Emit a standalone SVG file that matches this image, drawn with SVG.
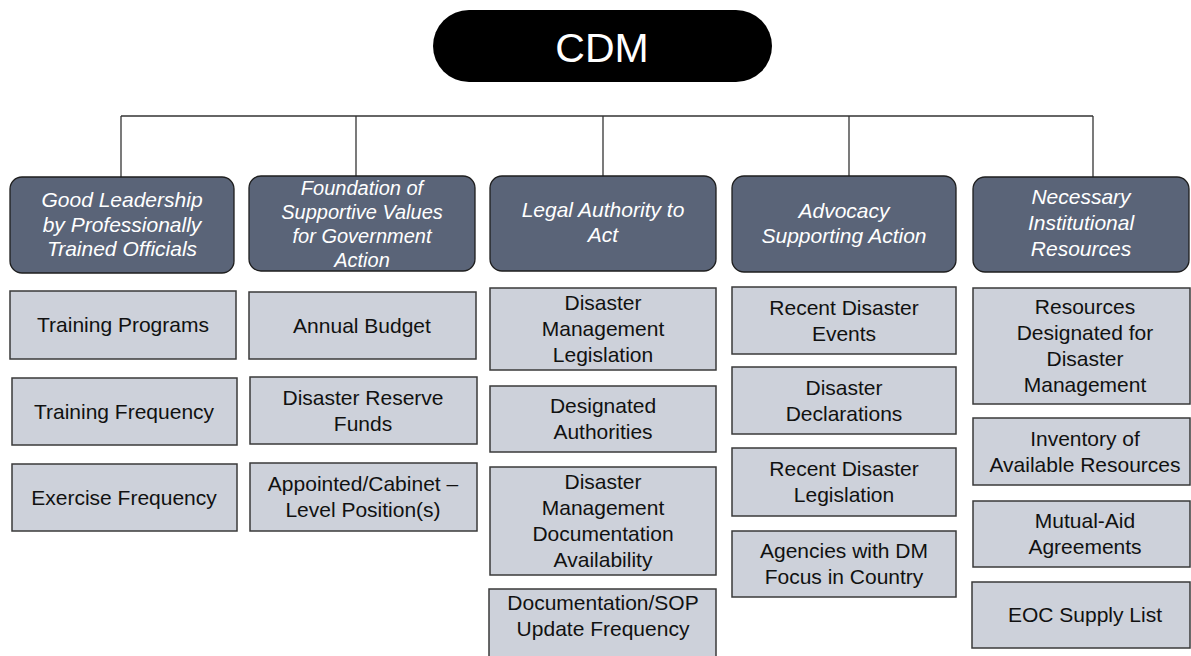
<svg xmlns="http://www.w3.org/2000/svg" width="1191" height="656" viewBox="0 0 1191 656">
<style>
.bg{fill:#ffffff}
.root{fill:#000000}
.roott{font-family:"Liberation Sans",Arial,sans-serif;font-size:41px;fill:#ffffff;text-anchor:middle}
.hdr{fill:#5a6478;stroke:#1e1e1e;stroke-width:1.3}
.hdrt{font-family:"Liberation Sans",Arial,sans-serif;font-size:21px;font-style:italic;fill:#ffffff;text-anchor:middle}
.sm{font-size:20px}
.box{fill:#cdd1da;stroke:#3a3a3a;stroke-width:1.5}
.boxt{font-family:"Liberation Sans",Arial,sans-serif;font-size:21px;fill:#111111;text-anchor:middle}
.conn{fill:none;stroke:#333333;stroke-width:1.3}
</style>
<rect class="bg" x="0" y="0" width="1191" height="656"/>
<g id="connectors">
<path class="conn" d="M121,116 H1093"/>
<path class="conn" d="M121,116 V177"/>
<path class="conn" d="M356,116 V176"/>
<path class="conn" d="M603,116 V176"/>
<path class="conn" d="M849,116 V176"/>
<path class="conn" d="M1093,116 V177"/>
</g>
<g id="cdm">
<rect class="root" x="433" y="10" width="339" height="72" rx="36"/>
<text class="roott" x="602" y="62">CDM</text>
</g>
<g id="h1">
<rect class="hdr" x="10" y="177" width="224" height="96" rx="12"/>
<text class="hdrt" x="122" y="207">Good Leadership</text>
<text class="hdrt" x="122" y="232">by Professionally</text>
<text class="hdrt" x="122" y="256">Trained Officials</text>
</g>
<g id="h2">
<rect class="hdr" x="249" y="176" width="226" height="95" rx="12"/>
<text class="hdrt sm" x="362" y="195">Foundation of</text>
<text class="hdrt sm" x="362" y="219">Supportive Values</text>
<text class="hdrt sm" x="362" y="243">for Government</text>
<text class="hdrt sm" x="362" y="267">Action</text>
</g>
<g id="h3">
<rect class="hdr" x="490" y="176" width="226" height="95" rx="12"/>
<text class="hdrt" x="603" y="217">Legal Authority to</text>
<text class="hdrt" x="603" y="242">Act</text>
</g>
<g id="h4">
<rect class="hdr" x="732" y="176" width="224" height="96" rx="12"/>
<text class="hdrt" x="844" y="218">Advocacy</text>
<text class="hdrt" x="844" y="243">Supporting Action</text>
</g>
<g id="h5">
<rect class="hdr" x="973" y="177" width="216" height="95" rx="12"/>
<text class="hdrt" x="1081" y="204">Necessary</text>
<text class="hdrt" x="1081" y="230">Institutional</text>
<text class="hdrt" x="1081" y="256">Resources</text>
</g>
<g id="c1b1">
<rect class="box" x="10" y="291" width="226" height="68"/>
<text class="boxt" x="123" y="332">Training Programs</text>
</g>
<g id="c1b2">
<rect class="box" x="12" y="378" width="225" height="67"/>
<text class="boxt" x="124" y="419">Training Frequency</text>
</g>
<g id="c1b3">
<rect class="box" x="12" y="464" width="225" height="67"/>
<text class="boxt" x="124" y="505">Exercise Frequency</text>
</g>
<g id="c2b1">
<rect class="box" x="249" y="292" width="227" height="67"/>
<text class="boxt" x="362" y="333">Annual Budget</text>
</g>
<g id="c2b2">
<rect class="box" x="250" y="377" width="227" height="67"/>
<text class="boxt" x="363" y="405">Disaster Reserve</text>
<text class="boxt" x="363" y="431">Funds</text>
</g>
<g id="c2b3">
<rect class="box" x="250" y="463" width="227" height="68"/>
<text class="boxt" x="363" y="491">Appointed/Cabinet –</text>
<text class="boxt" x="363" y="517">Level Position(s)</text>
</g>
<g id="c3b1">
<rect class="box" x="490" y="288" width="226" height="82"/>
<text class="boxt" x="603" y="310">Disaster</text>
<text class="boxt" x="603" y="336">Management</text>
<text class="boxt" x="603" y="362">Legislation</text>
</g>
<g id="c3b2">
<rect class="box" x="490" y="386" width="226" height="66"/>
<text class="boxt" x="603" y="413">Designated</text>
<text class="boxt" x="603" y="439">Authorities</text>
</g>
<g id="c3b3">
<rect class="box" x="490" y="467" width="226" height="108"/>
<text class="boxt" x="603" y="489">Disaster</text>
<text class="boxt" x="603" y="515">Management</text>
<text class="boxt" x="603" y="541">Documentation</text>
<text class="boxt" x="603" y="567">Availability</text>
</g>
<g id="c3b4">
<rect class="box" x="489" y="589" width="227" height="75"/>
<text class="boxt" x="603" y="610">Documentation/SOP</text>
<text class="boxt" x="603" y="636">Update Frequency</text>
</g>
<g id="c4b1">
<rect class="box" x="732" y="287" width="224" height="67"/>
<text class="boxt" x="844" y="315">Recent Disaster</text>
<text class="boxt" x="844" y="341">Events</text>
</g>
<g id="c4b2">
<rect class="box" x="732" y="367" width="224" height="67"/>
<text class="boxt" x="844" y="395">Disaster</text>
<text class="boxt" x="844" y="421">Declarations</text>
</g>
<g id="c4b3">
<rect class="box" x="732" y="448" width="224" height="68"/>
<text class="boxt" x="844" y="476">Recent Disaster</text>
<text class="boxt" x="844" y="502">Legislation</text>
</g>
<g id="c4b4">
<rect class="box" x="732" y="531" width="224" height="66"/>
<text class="boxt" x="844" y="558">Agencies with DM</text>
<text class="boxt" x="844" y="584">Focus in Country</text>
</g>
<g id="c5b1">
<rect class="box" x="973" y="288" width="217" height="116"/>
<text class="boxt" x="1085" y="314">Resources</text>
<text class="boxt" x="1085" y="340">Designated for</text>
<text class="boxt" x="1085" y="366">Disaster</text>
<text class="boxt" x="1085" y="392">Management</text>
</g>
<g id="c5b2">
<rect class="box" x="973" y="418" width="217" height="67"/>
<text class="boxt" x="1085" y="446">Inventory of</text>
<text class="boxt" x="1085" y="472">Available Resources</text>
</g>
<g id="c5b3">
<rect class="box" x="973" y="501" width="217" height="66"/>
<text class="boxt" x="1085" y="528">Mutual-Aid</text>
<text class="boxt" x="1085" y="554">Agreements</text>
</g>
<g id="c5b4">
<rect class="box" x="972" y="582" width="218" height="66"/>
<text class="boxt" x="1085" y="622">EOC Supply List</text>
</g>
</svg>
